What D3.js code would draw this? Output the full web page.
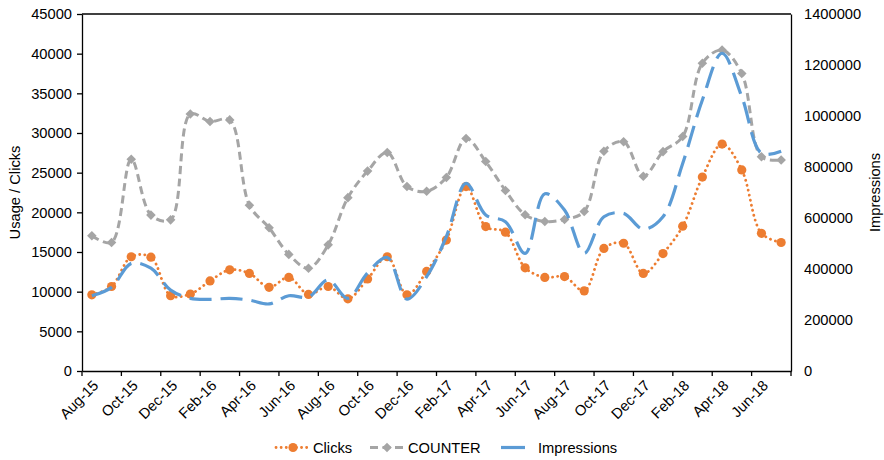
<!DOCTYPE html>
<html>
<head>
<meta charset="utf-8">
<script src="https://cdn.jsdelivr.net/npm/d3@7"></script>
<style>
  html, body { margin: 0; padding: 0; background: #fff; }
  svg text { font-family: "Liberation Sans", Arial, sans-serif; fill: #000; }
</style>
</head>
<body>
<svg id="chart" width="884" height="460"></svg>
<script>
// Monthly categories, Aug 2015 – Jul 2018
const months = ["Aug-15","Sep-15","Oct-15","Nov-15","Dec-15","Jan-16","Feb-16","Mar-16","Apr-16","May-16","Jun-16","Jul-16",
                "Aug-16","Sep-16","Oct-16","Nov-16","Dec-16","Jan-17","Feb-17","Mar-17","Apr-17","May-17","Jun-17","Jul-17",
                "Aug-17","Sep-17","Oct-17","Nov-17","Dec-17","Jan-18","Feb-18","Mar-18","Apr-18","May-18","Jun-18","Jul-18"];

// Usage / Clicks (left axis)
const clicks = [9600, 10650, 14400, 14350, 9500, 9700, 11350, 12750, 12300, 10550, 11800, 9650,
                10650, 9100, 11600, 14400, 9600, 12550, 16500, 23250, 18200, 17500, 13000, 11800,
                11900, 10100, 15450, 16100, 12300, 14800, 18250, 24450, 28600, 25350, 17350, 16200];
const counter = [17050, 16200, 26700, 19650, 19050, 32400, 31450, 31650, 20900, 18050, 14700, 12950,
                 15900, 21850, 25200, 27550, 23250, 22650, 24400, 29300, 26400, 22750, 19700, 18850,
                 19100, 20100, 27700, 28900, 24550, 27650, 29550, 38800, 40450, 37500, 27000, 26600];
// Impressions (right axis)
const impressions = [295000, 328000, 422000, 403000, 317000, 285000, 281000, 285000, 278000, 263000, 295000, 290000,
                     357000, 285000, 385000, 445000, 282000, 370000, 527000, 736000, 612000, 585000, 461000, 695000,
                     631000, 461000, 605000, 618000, 556000, 605000, 814000, 1063000, 1246000, 1076000, 854000, 862000];

const leftTicks = d3.range(0, 45001, 5000);
const rightTicks = d3.range(0, 1400001, 200000);
const labelEvery = 2;

const svg = d3.select("#chart");
const m = { left: 82, right: 791, top: 14, bottom: 371 };

const x = d3.scaleBand().domain(months).range([m.left, m.right]).padding(0);
const cx = d => x(d) + x.bandwidth() / 2;
const yL = d3.scaleLinear().domain([0, 45000]).range([m.bottom, m.top]);
const yR = d3.scaleLinear().domain([0, 1400000]).range([m.bottom, m.top]);

// frame: top edge
svg.append("line").attr("x1", m.left).attr("x2", m.right).attr("y1", m.top).attr("y2", m.top)
  .attr("stroke", "#000").attr("stroke-width", 1.3);

// left axis
const gL = svg.append("g").attr("transform", `translate(${m.left},0)`)
  .call(d3.axisLeft(yL).tickValues(leftTicks).tickSize(5).tickSizeOuter(0).tickPadding(5).tickFormat(d3.format("d")));
gL.select(".domain").attr("stroke", "#000").attr("stroke-width", 1.3);
gL.selectAll(".tick line").attr("stroke", "#000").attr("stroke-width", 1.3);
gL.selectAll("text").style("font-size", "14.7px");

// right axis (no tick marks)
const gR = svg.append("g").attr("transform", `translate(${m.right},0)`)
  .call(d3.axisRight(yR).tickValues(rightTicks).tickSize(0).tickSizeOuter(0).tickPadding(13).tickFormat(d3.format("d")));
gR.select(".domain").attr("stroke", "#000").attr("stroke-width", 1.3);
gR.selectAll("text").style("font-size", "14.7px");

// bottom axis: ticks on category boundaries, labels on category centres
const shown = months.filter((d, i) => i % labelEvery === 0);
const gB = svg.append("g").attr("transform", `translate(0,${m.bottom})`)
  .call(d3.axisBottom(x).tickValues(shown).tickSize(0).tickSizeOuter(0).tickPadding(0));
gB.select(".domain").attr("stroke", "#000").attr("stroke-width", 1.3);
gB.selectAll(".tick text")
  .style("font-size", "14.7px")
  .attr("text-anchor", "end")
  .attr("dy", null).attr("y", null)
  .attr("transform", "translate(4,12) rotate(-45)")
  .attr("dominant-baseline", "central");
const bounds = shown.map(d => x(d)).concat([m.right]);
gB.selectAll(".bt").data(bounds).enter().append("line")
  .attr("x1", d => d).attr("x2", d => d).attr("y1", 0).attr("y2", 5)
  .attr("stroke", "#000").attr("stroke-width", 1.3);

// axis titles
svg.append("text").attr("transform", `translate(20,${(m.top + m.bottom) / 2}) rotate(-90)`)
  .attr("text-anchor", "middle").style("font-size", "14.7px").text("Usage / Clicks");
svg.append("text").attr("transform", `translate(880,${(m.top + m.bottom) / 2}) rotate(-90)`)
  .attr("text-anchor", "middle").style("font-size", "14.7px").text("Impressions");

const curve = d3.curveCatmullRom.alpha(0.5);

// Clicks
const cClicks = "#ED7D31", cCounter = "#A5A5A5", cImpr = "#5B9BD5";
svg.append("path").datum(clicks)
  .attr("d", d3.line().x((d, i) => cx(months[i])).y(d => yL(d)).curve(curve))
  .attr("fill", "none").attr("stroke", cClicks).attr("stroke-width", 2.8)
  .attr("stroke-linecap", "round").attr("stroke-dasharray", "0.1 5");
svg.append("g").selectAll("circle").data(clicks).enter().append("circle")
  .attr("cx", (d, i) => cx(months[i])).attr("cy", d => yL(d)).attr("r", 4.6).attr("fill", cClicks);

// COUNTER
const diamond = d3.symbol().type(d3.symbolDiamond2 || d3.symbolSquare2).size(60);
svg.append("path").datum(counter)
  .attr("d", d3.line().x((d, i) => cx(months[i])).y(d => yL(d)).curve(curve))
  .attr("fill", "none").attr("stroke", cCounter).attr("stroke-width", 3)
  .attr("stroke-dasharray", "8 4.5");
svg.append("g").selectAll("path").data(counter).enter().append("path")
  .attr("d", d3.symbol().type(d3.symbolSquare).size(46))
  .attr("transform", (d, i) => `translate(${cx(months[i])},${yL(d)}) rotate(45)`)
  .attr("fill", cCounter);

// Impressions
svg.append("path").datum(impressions)
  .attr("d", d3.line().x((d, i) => cx(months[i])).y(d => yR(d)).curve(curve))
  .attr("fill", "none").attr("stroke", cImpr).attr("stroke-width", 3.2)
  .attr("stroke-dasharray", "22 9");

// legend
const ly = 447.5;
const lg = svg.append("g");
lg.append("line").attr("x1", 276).attr("x2", 308).attr("y1", ly).attr("y2", ly)
  .attr("stroke", cClicks).attr("stroke-width", 2.8).attr("stroke-linecap", "round").attr("stroke-dasharray", "0.1 5");
lg.append("circle").attr("cx", 293).attr("cy", ly).attr("r", 4.6).attr("fill", cClicks);
lg.append("text").attr("x", 313).attr("y", ly).attr("dominant-baseline", "central").style("font-size", "14.7px").text("Clicks");
lg.append("line").attr("x1", 370).attr("x2", 404).attr("y1", ly).attr("y2", ly)
  .attr("stroke", cCounter).attr("stroke-width", 3).attr("stroke-dasharray", "8 4.5");
lg.append("path").attr("d", d3.symbol().type(d3.symbolSquare).size(46))
  .attr("transform", `translate(387,${ly}) rotate(45)`).attr("fill", cCounter);
lg.append("text").attr("x", 408).attr("y", ly).attr("dominant-baseline", "central").style("font-size", "14.7px").text("COUNTER");
lg.append("line").attr("x1", 501).attr("x2", 525).attr("y1", ly).attr("y2", ly)
  .attr("stroke", cImpr).attr("stroke-width", 3.2);
lg.append("text").attr("x", 538).attr("y", ly).attr("dominant-baseline", "central").style("font-size", "14.7px").text("Impressions");
</script>
</body>
</html>
